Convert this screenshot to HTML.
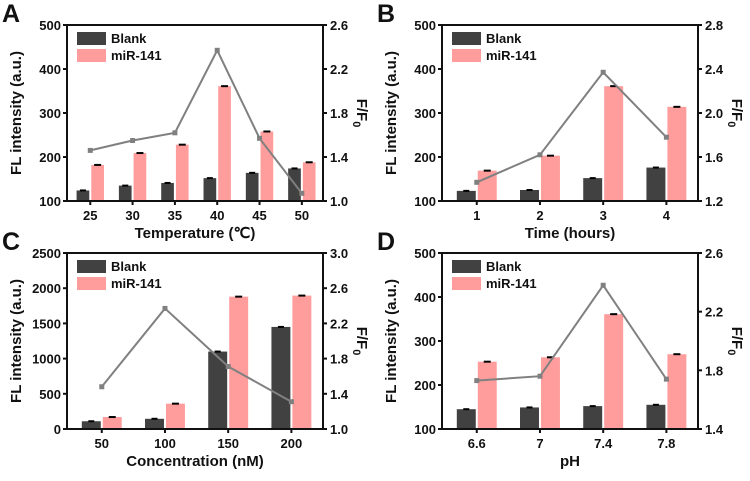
<!DOCTYPE html>
<html><head><meta charset="utf-8"><style>
body{margin:0;background:#fff}
svg text{font-family:"Liberation Sans",Arial,sans-serif;font-weight:bold;fill:#111}
</style></head><body>
<svg id="fig" width="750" height="476" viewBox="0 0 750 476" xmlns="http://www.w3.org/2000/svg"></svg>
<script>
// Panel A data
const catsA = ["25","30","35","40","45","50"];
const blankA = [124,135,141,152,164,174];
const mirA = [182,209,228,361,258,188];
const ratioA = [1.46,1.55,1.62,2.37,1.57,1.07];
const leftTicksA = [100,200,300,400,500];
const rightTicksA = ["1.0","1.4","1.8","2.2","2.6"];
// Panel B data
const catsB = ["1","2","3","4"];
const blankB = [123,125,152,176];
const mirB = [169,203,361,314];
const ratioB = [1.37,1.62,2.37,1.78];
const leftTicksB = [100,200,300,400,500];
const rightTicksB = ["1.2","1.6","2.0","2.4","2.8"];
// Panel C data
const catsC = ["50","100","150","200"];
const blankC = [110,145,1100,1450];
const mirC = [170,360,1880,1895];
const ratioC = [1.48,2.37,1.71,1.31];
const leftTicksC = [0,500,1000,1500,2000,2500];
const rightTicksC = ["1.0","1.4","1.8","2.2","2.6","3.0"];
// Panel D data
const catsD = ["6.6","7","7.4","7.8"];
const blankD = [145,149,152,155];
const mirD = [253,263,361,270];
const ratioD = [1.73,1.76,2.38,1.74];
const leftTicksD = [100,200,300,400,500];
const rightTicksD = ["1.4","1.8","2.2","2.6"];

const NS="http://www.w3.org/2000/svg";
const svg=document.getElementById('fig');
function mk(tag,attrs,parent,txt){const e=document.createElementNS(NS,tag);for(const k in attrs)e.setAttribute(k,attrs[k]);if(txt!==undefined)e.textContent=txt;(parent||svg).appendChild(e);return e;}

function panel(o){
  const g=mk('g',{});
  
  
  const L=o.x0,R=o.x1,T=o.y0,B=o.y1;
  const lmin=+o.lt[0],lmax=+o.lt[o.lt.length-1];
  const rmin=+o.rt[0],rmax=+o.rt[o.rt.length-1];
  const yl=v=>B-(v-lmin)/(lmax-lmin)*(B-T);
  const yr=v=>B-(v-rmin)/(rmax-rmin)*(B-T);
  const n=o.cats.length;
  const step=(R-L)/(n+0.05);
  const xc=i=>L+step*(i+0.55);
  const bw=Math.min(step*0.3,20);
  o.blank.forEach((v,i)=>{
    const r=mk('rect',{x:xc(i)-bw-1,y:yl(v),width:bw,height:B-yl(v),fill:'#414141'},g);
    
    
    mk('line',{x1:xc(i)-1-bw/2-3,x2:xc(i)-1-bw/2+3,y1:yl(v),y2:yl(v),stroke:'#000','stroke-width':2},g);
  });
  o.mir.forEach((v,i)=>{
    const r=mk('rect',{x:xc(i)+1,y:yl(v),width:bw,height:B-yl(v),fill:'#ff9d9d'},g);
    
    
    mk('line',{x1:xc(i)+1+bw/2-3.5,x2:xc(i)+1+bw/2+3.5,y1:yl(v),y2:yl(v),stroke:'#000','stroke-width':2},g);
  });
  const pts=o.ratio.map((v,i)=>xc(i)+','+yr(v)).join(' ');
  const pl=mk('polyline',{points:pts,fill:'none',stroke:'#808080','stroke-width':2},g);
  
  
  o.ratio.forEach((v,i)=>{
    const p=mk('rect',{x:xc(i)-2.5,y:yr(v)-2.5,width:5,height:5,fill:'#808080'},g);
    
    
  });
  mk('rect',{x:L,y:T,width:R-L,height:B-T,fill:'none',stroke:'#111','stroke-width':2},g);
  o.lt.forEach(t=>{const y=yl(+t);mk('line',{x1:L-4,x2:L,y1:y,y2:y,stroke:'#111','stroke-width':2},g);
    const tx=mk('text',{x:L-6,y:y+5,'text-anchor':'end','font-size':13},g,String(t));
    });
  o.rt.forEach(t=>{const y=yr(+t);mk('line',{x1:R,x2:R+4,y1:y,y2:y,stroke:'#111','stroke-width':2},g);
    const tx=mk('text',{x:R+7,y:y+5,'font-size':13},g,t);
    });
  o.cats.forEach((c,i)=>{mk('line',{x1:xc(i),x2:xc(i),y1:B,y2:B+4,stroke:'#111','stroke-width':2},g);
    const tx=mk('text',{x:xc(i),y:B+19,'text-anchor':'middle','font-size':13},g,c);
    });
  const xt=mk('text',{x:(L+R)/2,y:B+37,'text-anchor':'middle','font-size':15},g,o.xt);
  
  const yt=mk('text',{x:0,y:0,'text-anchor':'middle','font-size':15,transform:`translate(${L-46},${(T+B)/2}) rotate(-90)`},g,'FL intensity (a.u.)');
  
  const rt=mk('text',{x:0,y:0,'text-anchor':'middle','font-size':15,transform:`translate(${R+34},${(T+B)/2}) rotate(90)`},g);
  
  mk('tspan',{},rt,'F/F');mk('tspan',{dy:4,'font-size':11},rt,'0');
  const lt=mk('text',{x:L-65,y:T-3,'font-size':25},g,o.letter);
  
  const lg=mk('g',{},g);
  mk('rect',{x:L+10,y:T+7,width:29,height:13,fill:'#414141'},lg);
  mk('text',{x:L+44,y:T+18,'font-size':13},lg,'Blank');
  mk('rect',{x:L+10,y:T+24,width:29,height:13,fill:'#ff9d9d'},lg);
  mk('text',{x:L+44,y:T+35,'font-size':13},lg,'miR-141');
}
panel({letter:'A',x0:67,x1:323,y0:25,y1:201,cats:catsA,blank:blankA,mir:mirA,ratio:ratioA,lt:leftTicksA,rt:rightTicksA,xt:'Temperature (℃)'});
panel({letter:'B',x0:442,x1:698,y0:25,y1:201,cats:catsB,blank:blankB,mir:mirB,ratio:ratioB,lt:leftTicksB,rt:rightTicksB,xt:'Time (hours)'});
panel({letter:'C',x0:67,x1:323,y0:253,y1:429,cats:catsC,blank:blankC,mir:mirC,ratio:ratioC,lt:leftTicksC,rt:rightTicksC,xt:'Concentration (nM)'});
panel({letter:'D',x0:442,x1:698,y0:253,y1:429,cats:catsD,blank:blankD,mir:mirD,ratio:ratioD,lt:leftTicksD,rt:rightTicksD,xt:'pH'});
</script>
</body></html>
